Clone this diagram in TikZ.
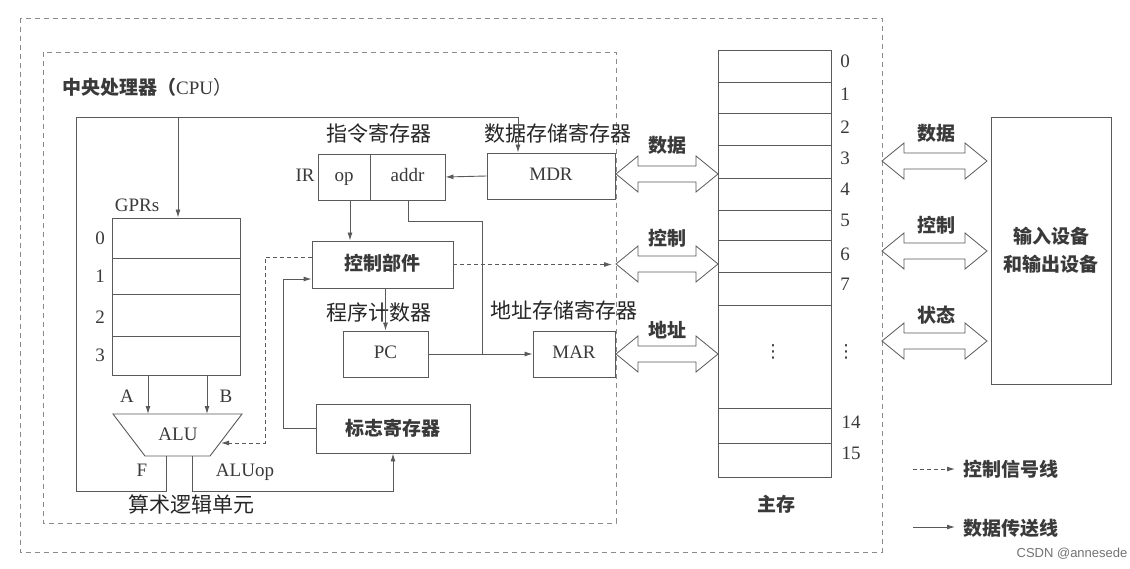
\documentclass[tikz,border=0pt]{standalone}
\usepackage{fontspec}
\setmainfont{Liberation Serif}
\newfontfamily\cjk{Noto Sans CJK SC}
\newfontfamily\csdnfont{Liberation Sans}
\newfontfamily\symfont{DejaVu Sans}
\usetikzlibrary{arrows.meta,calc}
\definecolor{ln}{HTML}{5A5A5A}
\definecolor{tx}{HTML}{3A3A3A}
\tikzset{
  ln/.style={draw=ln,line width=0.9pt},
  arr/.style={ln,-{Latex[length=8pt,width=5pt]}},
  darr/.style={arr,dash pattern=on 4pt off 3pt},
  box/.style={ln,rectangle,inner sep=0pt,text=tx,text height=13pt,text depth=4pt,font=\fontsize{19}{20}\selectfont},
  lat/.style={text=tx,inner sep=0pt,text height=13pt,text depth=4pt,font=\fontsize{19}{20}\selectfont},
  cj/.style={text=tx,inner sep=0pt,font=\cjk\bfseries\fontsize{19}{22}\selectfont},
  cjl/.style={text=black!85,inner sep=0pt,font=\cjk\fontsize{21}{23}\selectfont},
  hollow/.style={ln,line width=0.8pt,fill=white,line join=miter},
  frame/.style={draw=ln!70,line width=0.9pt,dash pattern=on 5pt off 4pt}
}
\newcommand{\dbarrow}[3]{%
  \draw[hollow] (#1,#3) -- ({#1+22},{#3-18}) -- ({#1+22},{#3-8}) -- ({#2-22},{#3-8})
   -- ({#2-22},{#3-18}) -- (#2,#3) -- ({#2-22},{#3+18}) -- ({#2-22},{#3+8})
   -- ({#1+22},{#3+8}) -- ({#1+22},{#3+18}) -- cycle;}
\begin{document}
\begin{tikzpicture}[x=1pt,y=-1pt]
\useasboundingbox (0,0) rectangle (1130,569);
\fill[white] (0,0) rectangle (1130,569);
% frames
\draw[frame] (20,18) rectangle (882,552);
\draw[frame] (43,52) rectangle (616,523);
\node[cj,anchor=west] (cpu) at (62,87) {中央处理器（\fontspec{Liberation Serif}\mdseries CPU\cjk）};

% GPRs
\node[box,minimum width=128,minimum height=40] (r0) at (176,238) {};
\node[box,minimum width=128,minimum height=36] (r1) at (176,276) {};
\node[box,minimum width=128,minimum height=42] (r2) at (176,315) {};
\node[box,minimum width=128,minimum height=39] (r3) at (176,355.5) {};
\node[lat] (l0) at (100,240) {0};
\node[lat] (l1) at (100,278) {1};
\node[lat] (l2) at (100,319) {2};
\node[lat] (l3) at (100,357) {3};
\node[lat] (gprs) at (137,207) {GPRs};

% ALU
\draw[ln,line join=miter] (113,414) -- (242,414) -- (210,456) -- (145,456) -- cycle;
\node[lat] (alu) at (178,436) {ALU};
\coordinate (aluA) at (148,414);
\coordinate (aluB) at (207,414);
\coordinate (aluF) at (166,456);
\coordinate (aluOp) at (192,456);
\coordinate (aluR) at (221,443);
\node[lat] (la) at (127,398) {A};
\node[lat] (lb) at (226,398) {B};
\node[lat] (lf) at (142,472) {F};
\node[lat] (lop) at (245,472) {ALUop};
\node[cjl] (alulbl) at (191,504) {算术逻辑单元};

% IR, MDR
\node[box,minimum width=52,minimum height=46] (op) at (344,177) {op};
\node[box,minimum width=75,minimum height=46] (addr) at (407.5,177) {addr};
\node[lat] (irl) at (305,177) {IR};
\node[cjl] (irlbl) at (379,134) {指令寄存器};
\node[box,minimum width=128,minimum height=46] (mdr) at (551,176) {MDR};
\node[cjl] (mdrlbl) at (558,133) {数据存储寄存器};

% control unit, PC, MAR, flags
\node[box,font=\cjk\bfseries\fontsize{19}{22}\selectfont,text height=16pt,text depth=3pt,minimum width=141,minimum height=47] (ctrl) at (382.5,264.5) {控制部件};
\node[box,minimum width=85,minimum height=46] (pc) at (385.5,354) {PC};
\node[cjl] (pclbl) at (379,312) {程序计数器};
\node[box,minimum width=82,minimum height=46] (mar) at (574,354) {MAR};
\node[cjl] (marlbl) at (564,310) {地址存储寄存器};
\node[box,font=\cjk\bfseries\fontsize{19}{22}\selectfont,text height=16pt,text depth=3pt,minimum width=154,minimum height=49] (flag) at (393,428.5) {标志寄存器};

% data path connectors
\coordinate (fb1) at (166,491);
\coordinate (fb2) at (76,491);
\coordinate (fb3) at (76,117);
\coordinate (tap) at (178,117);
\draw[arr] (aluF) -- (fb1) -- (fb2) -- (fb3) -| ([xshift=-33pt]mdr.north);
\draw[arr] (tap) -- (tap |- r0.north);
\draw[arr] (aluA |- r3.south) -- (aluA);
\draw[arr] (aluB |- r3.south) -- (aluB);
\draw[arr] (aluOp) -- (192,491) -| (flag.south);
\draw[arr] (mdr.west) -- (addr.east);
\draw[arr] ([xshift=6pt]op.south) -- ([xshift=6pt]op.south |- ctrl.north);
\coordinate (j1) at (482,221);
\coordinate (j2) at (482,354);
\draw[ln] ([xshift=0.5pt]addr.south) |- (j1) -- (j2);
\draw[arr] (pc.east) -- (mar.west);
\draw[arr] (pc.north |- ctrl.south) -- (pc.north);
\coordinate (fl1) at (283,428.5);
\draw[arr] (flag.west) -- (fl1) |- ([yshift=-14.5pt]ctrl.west);

% control signals
\coordinate (c1) at (265,257);
\coordinate (c2) at (265,443);
\coordinate (cbus) at (612,264.5);
\draw[darr] ([yshift=7.5pt]ctrl.west) -- (c1) -- (c2) -- (aluR);
\draw[darr] (ctrl.east) -- (cbus);

% buses CPU <-> memory
\dbarrow{616}{718}{174}
\dbarrow{616}{718}{264}
\dbarrow{616}{718}{354}
\node[cj] (bd) at (667,145) {数据};
\node[cj] (bc) at (667,238) {控制};
\node[cj] (ba) at (667,330) {地址};

% memory
\node[box,minimum width=113,minimum height=427] (mem) at (774.5,263.5) {};
\foreach \y in {82,113,145,178,210,240,272,305,408,443}
  \draw[ln] (718,\y) -- (831,\y);
\foreach \t/\y in {0/63,1/96,2/129,3/160,4/191,5/222,6/256,7/286}
  \node[lat] (m\t) at (845,\y) {\t};
\node[lat] (m14) at (851,424) {14};
\node[lat] (m15) at (851,455) {15};
\node[text=tx,inner sep=0pt,font=\symfont\fontsize{18}{20}\selectfont] (md1) at (773,352) {⋮};
\node[text=tx,inner sep=0pt,font=\symfont\fontsize{18}{20}\selectfont] (md2) at (846,352) {⋮};
\node[cj] (memlbl) at (776,504) {主存};

% buses memory <-> IO
\dbarrow{882}{987}{161}
\dbarrow{882}{987}{251}
\dbarrow{882}{987}{341}
\node[cj] (id) at (936,133) {数据};
\node[cj] (ic) at (936,225) {控制};
\node[cj] (is) at (936,315) {状态};
\node[box,font=\cjk\bfseries\fontsize{19}{28}\selectfont,text height=,text depth=,align=center,minimum width=120,minimum height=267] (io) at (1051,250.5) {输入设备\\和输出设备};

% legend
\coordinate (lg1) at (913,469);
\coordinate (lg2) at (955,469);
\coordinate (lg3) at (913,527);
\coordinate (lg4) at (955,527);
\draw[darr] (lg1) -- (lg2);
\draw[arr] (lg3) -- (lg4);
\node[cj,anchor=west] (lgc) at (963,469) {控制信号线};
\node[cj,anchor=west] (lgd) at (963,528) {数据传送线};
\node[text=black!55,inner sep=0pt,font=\csdnfont\fontsize{13}{14}\selectfont] (wm) at (1072,554) {CSDN @annesede};
\end{tikzpicture}
\end{document}
